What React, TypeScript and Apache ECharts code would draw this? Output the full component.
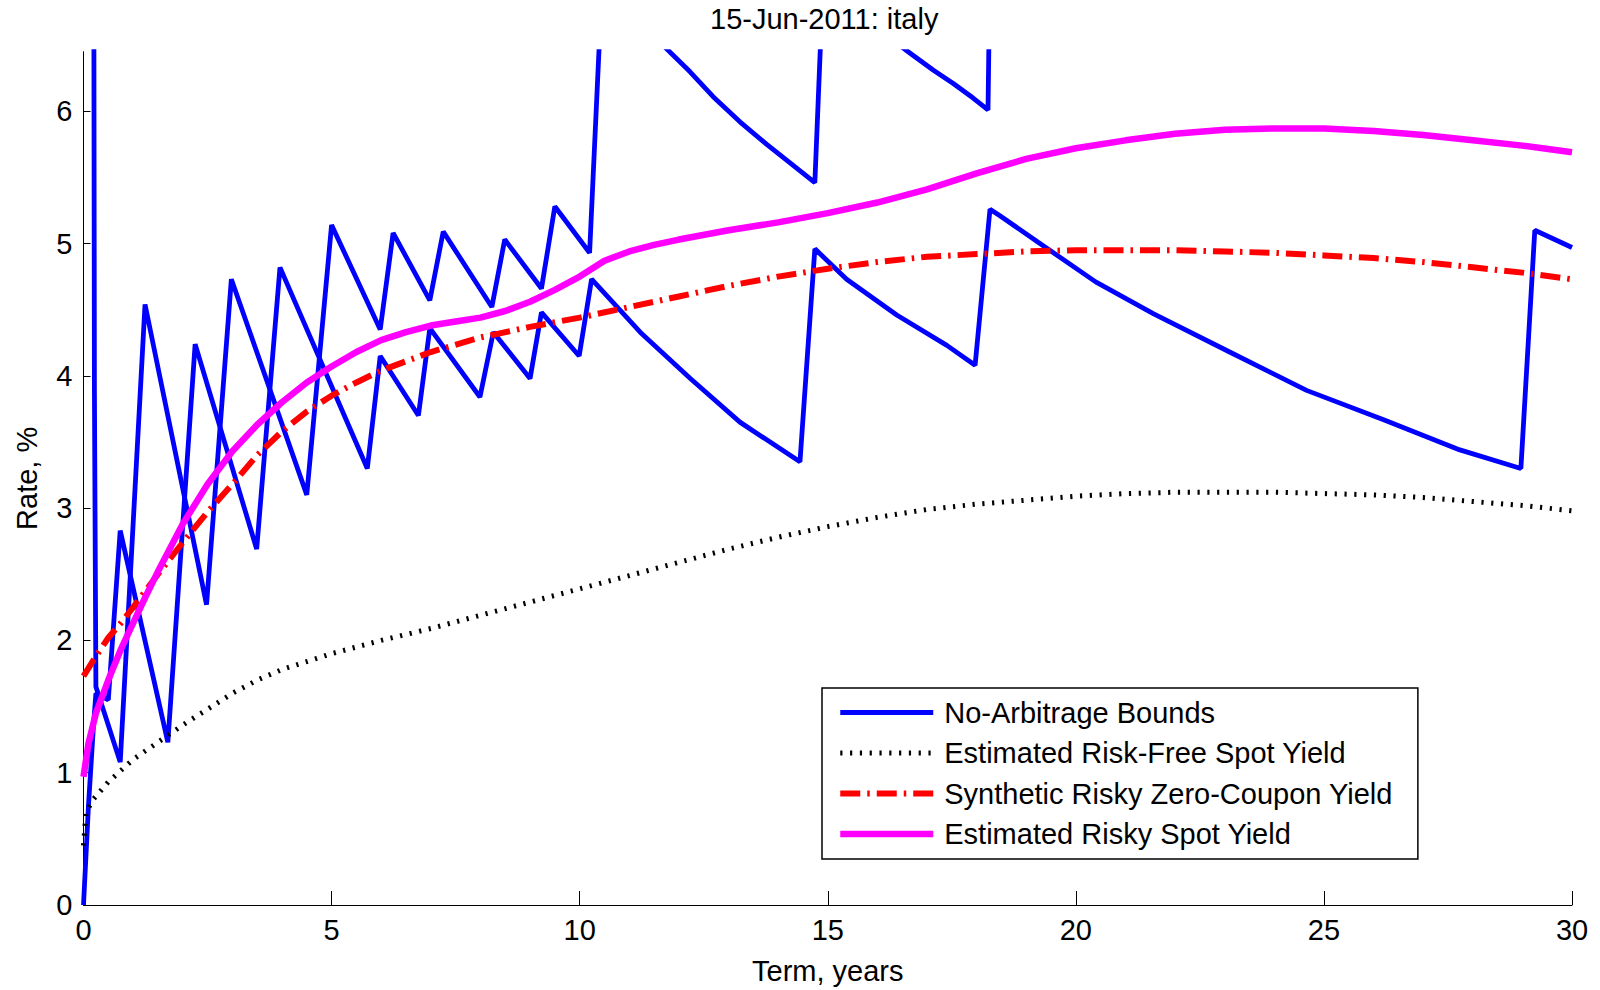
import React, { useEffect, useRef } from "react";
import * as echarts from "echarts";

const TITLE = "15-Jun-2011: italy";
const X_NAME = "Term, years";
const Y_NAME = "Rate, %";
const X_TICKS = [0, 5, 10, 15, 20, 25, 30];
const Y_TICKS = [0, 1, 2, 3, 4, 5, 6];
const NAMES = [
  "No-Arbitrage Bounds",
  "Estimated Risk-Free Spot Yield",
  "Synthetic Risky Zero-Coupon Yield",
  "Estimated Risky Spot Yield",
];

// No-arbitrage bounds: first sawtooth (goes off the top of the chart)
const boundATerm = [0.2, 0.22, 0.25, 0.74, 1.24, 2.48, 2.98, 4.5, 5.0, 5.98, 6.24, 6.98, 7.25, 8.23, 8.49, 9.23, 9.5, 10.2, 10.45, 12.22, 12.69, 13.23, 13.77, 14.24, 14.74, 14.9, 16.62, 17.13, 17.53, 17.93, 18.23, 18.3, 28.95, 29.25, 30];
const boundARate = [9.0, 3.9, 1.65, 1.08, 4.54, 2.27, 4.73, 3.1, 5.14, 4.35, 5.08, 4.57, 5.09, 4.52, 5.03, 4.66, 5.28, 4.93, 6.95, 6.3, 6.11, 5.92, 5.75, 5.61, 5.46, 6.93, 6.45, 6.31, 6.21, 6.1, 6.01, 8.0, 6.9, 9.0, 8.8];

// No-arbitrage bounds: second sawtooth
const boundBTerm = [0, 0.1, 0.2, 0.25, 0.5, 0.74, 1.7, 2.25, 3.49, 3.96, 5.72, 5.98, 6.75, 6.98, 7.99, 8.26, 9.0, 9.23, 9.99, 10.24, 11.22, 12.23, 13.23, 14.44, 14.74, 15.38, 16.39, 17.4, 17.97, 18.27, 18.47, 19.24, 20.4, 21.56, 23.1, 24.65, 26.19, 27.74, 28.97, 29.25, 30];
const boundBRate = [0, 0.75, 1.35, 1.6, 1.55, 2.83, 1.23, 4.24, 2.69, 4.82, 3.3, 4.15, 3.7, 4.36, 3.84, 4.33, 3.98, 4.48, 4.15, 4.73, 4.33, 3.98, 3.65, 3.35, 4.96, 4.73, 4.46, 4.23, 4.08, 5.26, 5.21, 5.01, 4.71, 4.47, 4.18, 3.89, 3.67, 3.44, 3.3, 5.1, 4.97];

// Estimated risk-free spot yield
const riskFreeTerm = [0, 0.05, 0.2, 0.5, 1, 1.5, 2, 2.5, 3, 3.5, 4, 5, 6, 7, 8, 9, 10, 11, 12, 13, 14, 15, 16, 17, 18, 19, 20, 21, 22, 23, 24, 25, 26, 27, 28, 29, 30];
const riskFreeRate = [0.45, 0.7, 0.8, 0.93, 1.1, 1.23, 1.36, 1.48, 1.6, 1.7, 1.78, 1.9, 2.0, 2.09, 2.19, 2.29, 2.39, 2.49, 2.59, 2.69, 2.78, 2.86, 2.93, 2.99, 3.03, 3.06, 3.09, 3.11, 3.12, 3.12, 3.12, 3.11, 3.1, 3.08, 3.05, 3.02, 2.98];

// Synthetic risky zero-coupon yield
const syntheticTerm = [0, 0.25, 0.5, 0.75, 1, 1.5, 2, 2.5, 3, 3.5, 4, 4.5, 5, 5.5, 6, 7, 8, 9, 10, 11, 12, 13, 14, 15, 16, 17, 18, 19, 20, 21, 22, 23, 24, 25, 26, 27, 28, 29, 30];
const syntheticRate = [1.73, 1.88, 2.02, 2.13, 2.25, 2.5, 2.74, 2.97, 3.18, 3.4, 3.58, 3.73, 3.85, 3.95, 4.04, 4.18, 4.29, 4.37, 4.44, 4.52, 4.6, 4.68, 4.75, 4.81, 4.86, 4.9, 4.92, 4.94, 4.95, 4.95, 4.95, 4.94, 4.93, 4.91, 4.89, 4.86, 4.82, 4.78, 4.73];

// Estimated risky spot yield
const riskyTerm = [0, 0.1, 0.25, 0.5, 0.75, 1, 1.25, 1.5, 1.75, 2, 2.5, 3, 3.5, 4, 4.5, 5, 5.5, 6, 6.5, 7, 7.5, 8, 8.5, 9, 9.5, 10, 10.5, 11, 11.5, 12, 13, 14, 15, 16, 17, 18, 19, 20, 21, 22, 23, 24, 25, 26, 27, 28, 29, 30];
const riskyRate = [0.97, 1.22, 1.45, 1.7, 1.93, 2.13, 2.33, 2.52, 2.7, 2.88, 3.18, 3.43, 3.63, 3.8, 3.95, 4.07, 4.18, 4.27, 4.33, 4.38, 4.41, 4.44, 4.49, 4.56, 4.65, 4.75, 4.87, 4.94, 4.99, 5.03, 5.1, 5.16, 5.23, 5.31, 5.41, 5.53, 5.64, 5.72, 5.78, 5.83, 5.86, 5.87, 5.87, 5.85, 5.82, 5.78, 5.74, 5.69];

const pairs = (xs: number[], ys: number[]) => xs.map((x, i) => [x, ys[i]]);

const FONT = "'Liberation Sans', Arial, Helvetica, sans-serif";

export default function App() {
  const ref = useRef<HTMLDivElement>(null);
  useEffect(() => {
    if (!ref.current) return;
    const chart = echarts.init(ref.current, undefined, { renderer: "svg" });
    const text = { fontFamily: FONT, fontSize: 29, color: "#000" };
    chart.setOption({
      animation: false,
      backgroundColor: "#fff",
      title: {
        text: TITLE,
        left: 710,
        top: 4,
        padding: 0,
        textStyle: { ...text, fontWeight: "normal" },
      },
      grid: { left: 83.5, right: 28, top: 51.7, bottom: 80.7, containLabel: false },
      legend: {
        orient: "vertical",
        left: 822,
        top: 688,
        itemWidth: 93,
        itemHeight: 14,
        itemGap: 6.5,
        padding: [7.5, 25, 8, 15],
        borderColor: "#000",
        borderWidth: 1.5,
        backgroundColor: "#fff",
        selectedMode: false,
        itemStyle: { opacity: 0 },
        lineStyle: { width: "inherit", type: "inherit", opacity: 1 },
        textStyle: { ...text, lineHeight: 34, padding: [0, 0, 0, 6] },
        data: NAMES,
      },
      xAxis: {
        type: "value",
        min: 0,
        max: 30,
        interval: 5,
        name: X_NAME,
        nameLocation: "middle",
        nameGap: 51,
        nameTextStyle: text,
        axisLine: { lineStyle: { color: "#000", width: 1 } },
        axisTick: { inside: true, length: 14, lineStyle: { color: "#000", width: 1 }, customValues: X_TICKS },
        axisLabel: { ...text, margin: 10, customValues: X_TICKS },
        splitLine: { show: false },
      },
      yAxis: {
        type: "value",
        min: 0,
        max: 6.45,
        interval: 1,
        name: Y_NAME,
        nameLocation: "middle",
        nameGap: 42,
        nameRotate: 90,
        nameTextStyle: text,
        axisLine: { show: true, lineStyle: { color: "#000", width: 1 } },
        axisTick: { show: true, inside: true, length: 7, lineStyle: { color: "#000", width: 1 }, customValues: Y_TICKS },
        axisLabel: { ...text, margin: 11, customValues: Y_TICKS },
        splitLine: { show: false },
      },
      series: [
        {
          name: NAMES[0],
          type: "line",
          symbol: "none",
          data: pairs(boundATerm, boundARate),
          lineStyle: { color: "#0000ff", width: 4.8 },
          itemStyle: { color: "#0000ff" },
          clip: true,
        },
        {
          name: NAMES[0],
          type: "line",
          symbol: "none",
          data: pairs(boundBTerm, boundBRate),
          lineStyle: { color: "#0000ff", width: 4.8 },
          itemStyle: { color: "#0000ff" },
          clip: true,
        },
        {
          name: NAMES[1],
          type: "line",
          symbol: "none",
          data: pairs(riskFreeTerm, riskFreeRate),
          lineStyle: { color: "#000", width: 5, type: [2.2, 7.6] },
          itemStyle: { color: "#000" },
        },
        {
          name: NAMES[2],
          type: "line",
          symbol: "none",
          data: pairs(syntheticTerm, syntheticRate),
          lineStyle: { color: "#ff0000", width: 6, type: [20, 7, 2.5, 7] },
          itemStyle: { color: "#ff0000" },
        },
        {
          name: NAMES[3],
          type: "line",
          symbol: "none",
          data: pairs(riskyTerm, riskyRate),
          lineStyle: { color: "#ff00ff", width: 6.5 },
          itemStyle: { color: "#ff00ff" },
        },
      ],
    });
    return () => chart.dispose();
  }, []);
  return (
    <div
      ref={ref}
      style={{ position: "absolute", left: 0, top: 0, width: 1600, height: 990, background: "#fff" }}
    />
  );
}
